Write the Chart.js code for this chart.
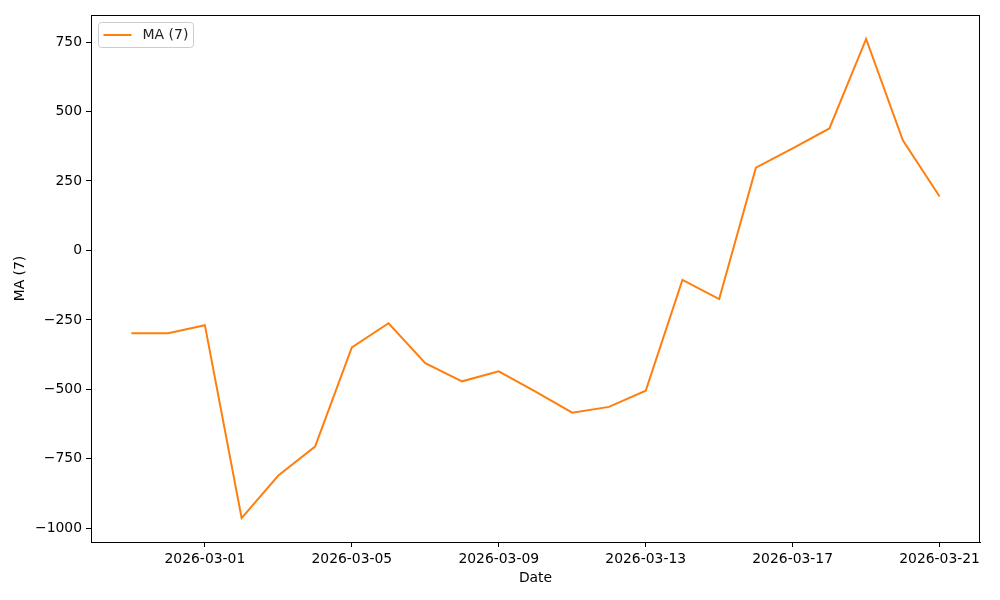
<!DOCTYPE html>
<html>
<head>
<meta charset="utf-8">
<script src="https://cdn.jsdelivr.net/npm/chart.js@4.4.1/dist/chart.umd.min.js"></script>
<style>
  html, body { margin: 0; padding: 0; background: #fff; }
  #wrap { width: 1000px; height: 600px; position: relative; }
</style>
</head>
<body>
<div id="wrap"><canvas id="c" width="1000" height="600"></canvas></div>
<script>
// data
var dates = ['2026-02-27','2026-02-28','2026-03-01','2026-03-02','2026-03-03','2026-03-04',
  '2026-03-05','2026-03-06','2026-03-07','2026-03-08','2026-03-09','2026-03-10','2026-03-11',
  '2026-03-12','2026-03-13','2026-03-14','2026-03-15','2026-03-16','2026-03-17','2026-03-18',
  '2026-03-19','2026-03-20','2026-03-21'];
var maValues = [-298,-298,-269,-963,-810,-706,-349,-262,-406,-471,-435,-508,-584,-563,-505,
  -106,-175,298,367,439,761,396,194];
var xTickDates = ['2026-03-01','2026-03-05','2026-03-09','2026-03-13','2026-03-17','2026-03-21'];
var yTicks = [-1000,-750,-500,-250,0,250,500,750];

var FONT = 'DejaVu Sans';
var n = dates.length;
var yLo = Math.min.apply(null, maValues), yHi = Math.max.apply(null, maValues);
var yPad = (yHi - yLo) * 0.05, xPad = (n - 1) * 0.05;

var points = maValues.map(function(v, i){ return {x: i, y: v}; });

var framePlugin = {
  id: 'frame',
  afterDraw: function(chart){
    var a = chart.chartArea, ctx = chart.ctx;
    ctx.save();
    ctx.strokeStyle = '#000';
    ctx.lineWidth = 1;
    ctx.strokeRect(Math.round(a.left) + 0.5, Math.round(a.top) + 0.5,
      Math.round(a.right - a.left) - 1, Math.round(a.bottom - a.top));
    // legend box, matplotlib style
    var ds = chart.data.datasets[0];
    var bx = a.left + 7.5, by = a.top + 7.5, bw = 95, bh = 25;
    ctx.fillStyle = 'rgba(255,255,255,0.8)';
    ctx.strokeStyle = '#cccccc';
    ctx.beginPath();
    if (ctx.roundRect) ctx.roundRect(bx, by, bw, bh, 3); else ctx.rect(bx, by, bw, bh);
    ctx.fill(); ctx.stroke();
    ctx.strokeStyle = ds.borderColor;
    ctx.lineWidth = 2;
    ctx.beginPath();
    ctx.moveTo(bx + 5, by + 12.5);
    ctx.lineTo(bx + 33, by + 12.5);
    ctx.stroke();
    ctx.fillStyle = '#222';
    ctx.font = '14px "' + FONT + '"';
    ctx.textBaseline = 'middle';
    ctx.fillText(ds.label, bx + 44, by + 12.5);
    ctx.restore();
  }
};

new Chart(document.getElementById('c'), {
  type: 'line',
  data: {
    datasets: [{
      label: 'MA (7)',
      data: points,
      borderColor: '#ff7f0e',
      borderWidth: 2,
      pointRadius: 0,
      tension: 0,
      fill: false
    }]
  },
  options: {
    responsive: false,
    animation: false,
    layout: { padding: { top: 15, right: 20, left: 0, bottom: 0 } },
    plugins: { legend: { display: false }, tooltip: { enabled: false } },
    scales: {
      x: {
        type: 'linear',
        min: -xPad, max: n - 1 + xPad,
        afterBuildTicks: function(s){
          s.ticks = xTickDates.map(function(d){ return {value: dates.indexOf(d)}; });
        },
        afterFit: function(s){ s.height = 58; },
        ticks: {
          color: '#000', font: { family: FONT, size: 13.9 }, maxRotation: 0, padding: 4,
          callback: function(v){ return dates[v]; }
        },
        grid: { drawOnChartArea: false, drawTicks: true, tickLength: 5, color: '#000' },
        border: { display: true, color: '#000' },
        title: { display: true, text: 'Date', color: '#000', font: { family: FONT, size: 13.9 }, padding: { top: 0, bottom: 13 } }
      },
      y: {
        type: 'linear',
        min: yLo - yPad, max: yHi + yPad,
        afterBuildTicks: function(s){
          s.ticks = yTicks.map(function(v){ return {value: v}; });
        },
        afterFit: function(s){ s.width = 91; },
        ticks: {
          color: '#000', font: { family: FONT, size: 13.9 }, padding: 4,
          callback: function(v){ return String(v).replace('-', '\u2212'); }
        },
        grid: { drawOnChartArea: false, drawTicks: true, tickLength: 5, color: '#000' },
        border: { display: true, color: '#000' },
        title: { display: true, text: 'MA (7)', color: '#000', font: { family: FONT, size: 13.9 }, padding: { top: 12, bottom: 4 } }
      }
    }
  },
  plugins: [framePlugin]
});
</script>
</body>
</html>
